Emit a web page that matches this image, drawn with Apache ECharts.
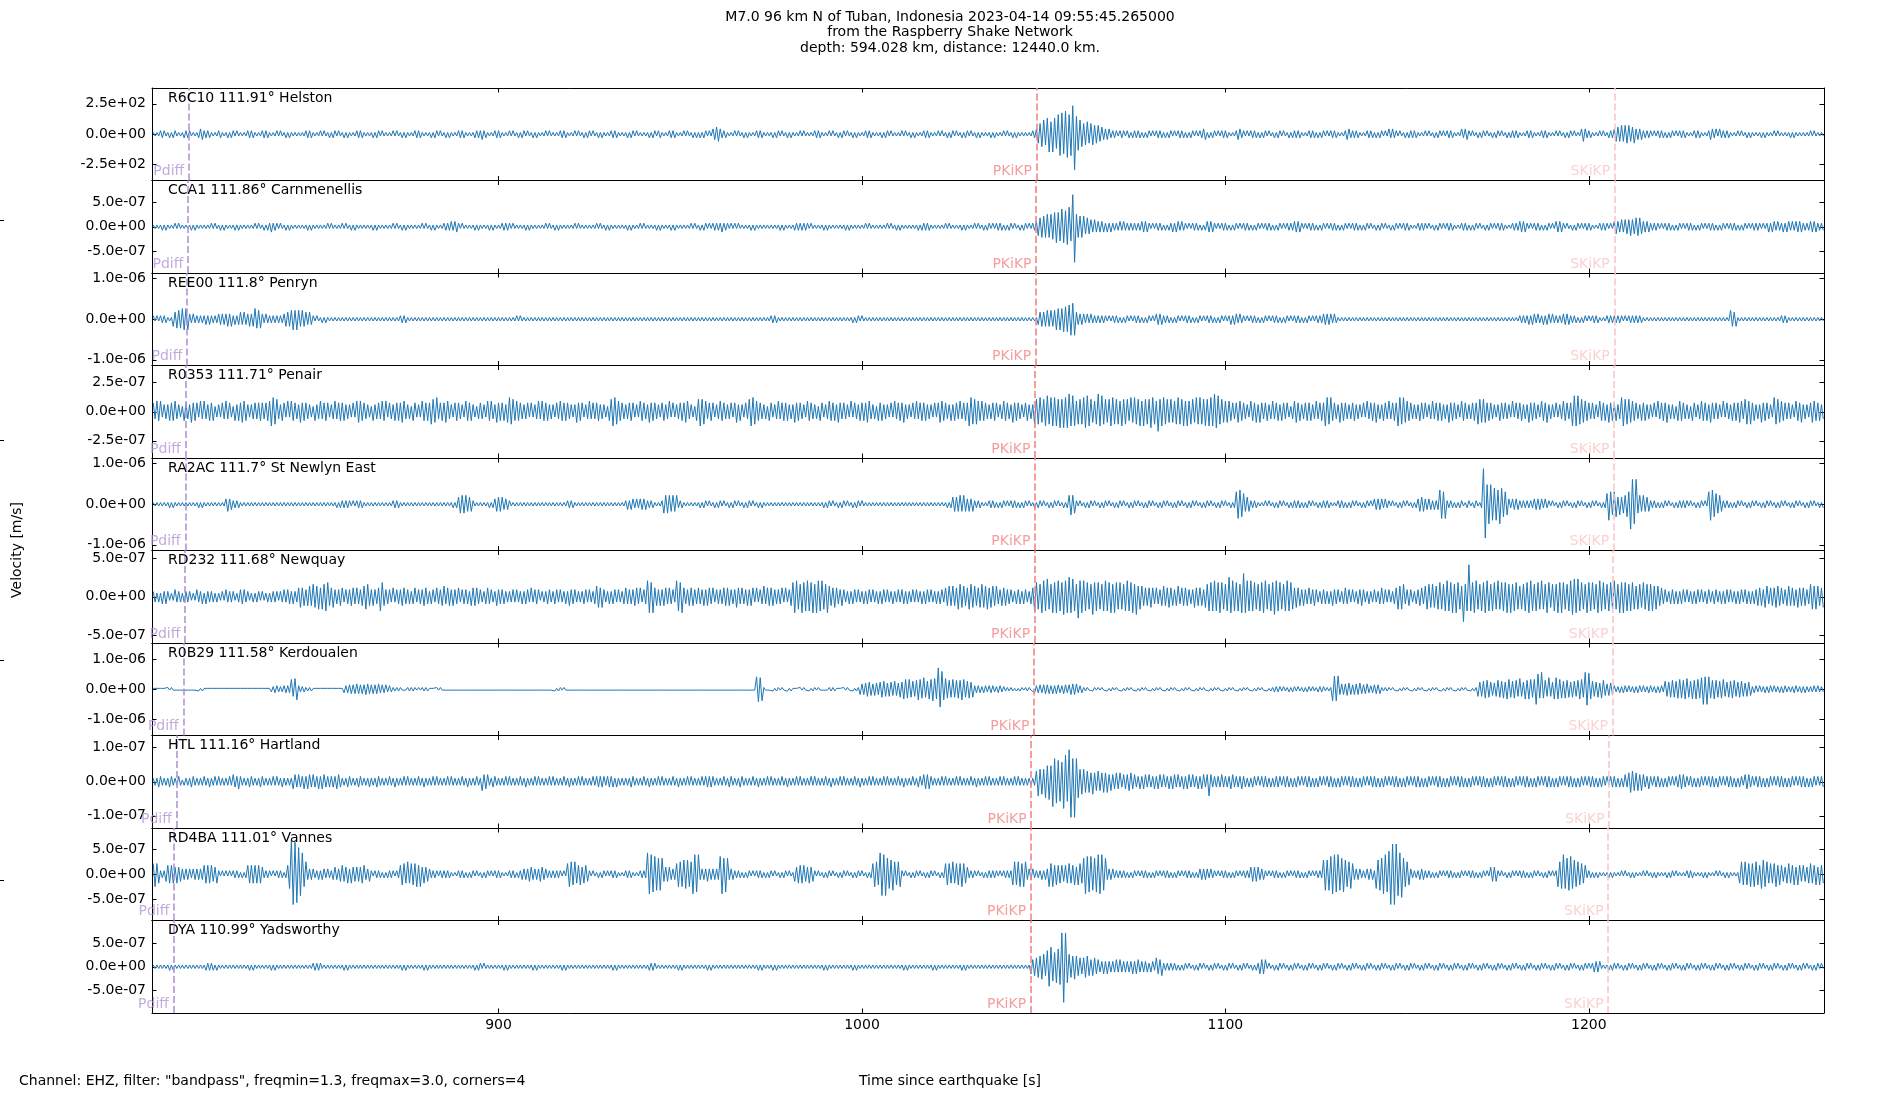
<!DOCTYPE html>
<html>
<head>
<meta charset="utf-8">
<script src="https://cdn.jsdelivr.net/npm/echarts@6/dist/echarts.min.js"></script>
<style>html,body{margin:0;padding:0;background:#fff}#c{width:1900px;height:1100px}</style>
</head>
<body>
<div id="c"></div>
<script>
// ---------------- DATA ----------------
const titleLines = ["M7.0 96 km N of Tuban, Indonesia 2023-04-14 09:55:45.265000", "from the Raspberry Shake Network", "depth: 594.028 km, distance: 12440.0 km."];
const footerLeft = 'Channel: EHZ, filter: "bandpass", freqmin=1.3, freqmax=3.0, corners=4';
const xAxisName = "Time since earthquake [s]";
const yAxisName = "Velocity [m/s]";

const stations = ["R6C10", "CCA1", "REE00", "R0353", "RA2AC", "RD232", "R0B29", "HTL", "RD4BA", "DYA"];
const distances = [111.91, 111.86, 111.8, 111.71, 111.7, 111.68, 111.58, 111.16, 111.01, 110.99];
const places = ["Helston", "Carnmenellis", "Penryn", "Penair", "St Newlyn East", "Newquay", "Kerdoualen", "Hartland", "Vannes", "Yadsworthy"];

const phaseNames = ["Pdiff", "PKiKP", "SKiKP"];
const pdiffTimes = [814.75, 814.5, 814.25, 813.85, 813.8, 813.7, 813.25, 811.35, 810.65, 810.55];
const pkikpTimes = [1048.0, 1047.9, 1047.8, 1047.6, 1047.6, 1047.5, 1047.3, 1046.55, 1046.4, 1046.4];
const skikpTimes = [1207.1, 1207.0, 1207.0, 1206.9, 1206.8, 1206.6, 1206.5, 1205.6, 1205.3, 1205.3];

const timeRange = [804.65, 1264.7];
const timeTicks = [900, 1000, 1100, 1200];
const yLimits = [380, 9.55e-7, 1.14e-6, 3.98e-7, 1.14e-6, 6.0e-7, 1.56e-6, 1.36e-7, 9.25e-7, 9.75e-7];
const yTickSteps = [250, 5e-7, 1e-6, 2.5e-7, 1e-6, 5e-7, 1e-6, 1e-7, 5e-7, 5e-7];
// number of amplitude levels per half range for each trace
const levelsPerHalf = [26, 26, 26, 26, 26, 26, 52, 26, 26, 26];

const sampleStart = 805;   // time of first sample [s]
const blockSeconds = 10;   // each block string covers 10 s (20 samples, 0.5 s apart)
// Amplitude codes: A..Z = +1..+26 levels, a..z = -1..-26 levels
const trR6C10 = [
"AaAaBbBaAbAbBaAaAbBb","BaAaAbCcBbBbAaAaBbAa","AbAbBaBaAaAaBbBbAaAa","BbBbAaAaBaBaAbAbAaAa","AaAaBbBbAaAaBaBaAbAb",
"BaBaAbAbAaAaBbBbAaAa","AbAbBaBaAaAaBaBaAbAb","AaAaBbBbAaAaAbAbBaBa","AbAbAaAaBbBbAaAaAbBb","BcBbAaAaBbBbAaAaBaBa",
"AbAbBaBaAbAbAaAaBaBa","AaAaBbBbAaAaBaBaAbAb","BaBaAbAbAaAaBbBbAaAa","AbAbBaBaAaAaAbAbBaBb","AaAaBbBbAaAaBaBaAbAb",
"AbAbBaBaCcDdCbBbAaAa","BaBaAbAbAaAaBbBbAaAa","AbAbBaBaAbAbAaAaBaBa","AaAaBbBbAaAaBaBaAbAb","BaBaAbAbAaAaBbBbAaAa",
"AbAbBaBaAaAaBaBaAbAb","AaAaBbBbAaAaBaBaAbAb","BaBaAbAbBaBaAbAbAaAa","AbAbAaAaBaBaAbAbAaAa","AaAaBbCeFgHfIjGjIhKl",
"LkMmKlPtJiHgFfGeFfEe","EdDcCcCbBbBaBbBaBbAb","BbBbAbAbBaBaBbBbAbAb","BaBaBbBbAbAbBaBaBbCc","AbAbBaBaBbBbAaAaBcCb",
"BaBaBbBbAbAbBaBaAbAb","BaBaAbAbBbBbAaAaBbBb","AbAbBaBaBbBbAaAaBcCb","BbBbAaAaBbBbAbAbBaBa","CbCbBaBaAbAbBbBbAaAa",
"BaBaAbAbBaBaBbBbAaAa","CbCcBaBaAbAbBaBaAbAb","BaBaAbAbBbBbAaAaBbBb","AaAaBbBbAaAaBaBaAbAb","BaBaAaCdCbBbAaAaBaBa",
"AbBbCdDdEdEeEdDeCcCc","BbBbBaBaBbBbAbAbBaBa","BbBbAaAaBbBbAaAaBcCb","CaCbBbBbAaAaBaBaAbAb","AaAaAbAbAaAaBaBaAaAa",
"AbAbAaAaAaAaBaBaAaAa"];
const trCCA1 = [
"AaAaAbAbAaAaBaBaAaAa","AbAbAaAaAaAaBaBaAbAb","AaAaAbAbAaAaAaAaBaBa","AbAbBcBbBaBaAbAbAaAa","AaAaAbAbAaAaAaAaBaBa",
"AaAaBaBaAbAbAaAaAaAa","AbAbAaAaAaAaBaBaAbAb","AaAaAaAaBaBaAbAbAaAa","BbBbCbCcBaBaAaAaAbAb","AaAaAbAbAaAaBbBbBaBa",
"AaAaAbAbAaAaAaAaBaBa","AbAbAaAaAaAaBaBaAaAa","AaAaBaBaAbAbAaAaAaAa","AbAbAaAaBaBaAaAaAbAb","AaAaAbAbAaAaAaAaBaBa",
"AbAbBaBaBbBbBcBbBaBa","BaBaAaAaAbAbAaAaAaAa","AaAaAbAbAaAaAbBbBbBb","BaBaAaAaAbAbAaAaAaAa","AbAbAaAaAaAaBaBaAaAa",
"AaAaBaBaAbAbAaAaAaAa","AbAbBbBbAaAaAaAaBaBa","AaAaAbAbAaAaBaBaAbAb","BaBaBbBbAbAbBaBaAbAb","BaBaBbCeEfFfGfGgHiHh",
"JiIjKhRtGfFfFdEdDcDc","CcCcBcBcBbBbCbCbBbBb","BbBbCcCcBaBaBbBbAbAb","BcBcCbCbBaBaBbBbAbAb","CcCcBaBaBbBbAbAbBaBa",
"BbBbAbAbBaBaBbBbAbAb","BaBaBbBbCcCcBaBaBbBb","AbAbBaBaBbBbAbAbBaBa","BbBbAbAbBaBaAbAbBaBa","AbAbBaBaBbBbAaAaBbBb",
"BaBaAbAbBaBaBbBbAaAa","BbBbAbAbBaBaAbAbBaBa","BbBbAaAaBbBbCcCcBaBa","BbBbAbAbBaBaCcCcBaBa","AbAbBaBaBbBbAaAaBbBb",
"BaBaCdCcDcDdDeDdEeEd","CcCcBbBbBaBaBbBbAbAb","BaBaBbBbAbAbBaBaBbBb","AbAbBaBaBbBbAbAbBaBa","BbBbBaBaBcBcCbCbBcBc",
"CbCbCcCcBbBbCcCcBbBb"];
const trREE00 = [
"BaBaBbBbAaAdDeEeFfFf","CbCbBbBbBcBcBbBbCcCc","CdCdBcBcDcDcCdCdFeEe","CbCbBbBbBbBbCdDdEfEf","EdEdDcDcBaBaAbAbAaAa",
"AaAaAaAaAaAaAaAaAaAa","AaAaAaAaAaAaAaAaBbBb","AaAaAaAaAaAaAaAaAaAa","AaAaAaAaAaAaAaAaAaAa","AaAaAaAaAaAaAaAaAaAa",
"BaBaAaAaAaAaAaAaAaAa","AaAaAaAaAaAaAaAaAaAa","AaAaAaAaAaAaAaAaAaAa","AaAaAaAaAaAaAaAaAaAa","AaAaAaAaAaAaAaAaAaAa",
"AaAaAaAaAaAaAaAaAaAa","AaAaAaAaAaAaAaAaAaAa","BbBbAaAaAaAaAaAaAaAa","AaAaAaAaAaAaAaAaAaAa","AaAaAbAbBaBaAaAaAaAa",
"AaAaAaAaAaAaAaAaAaAa","AaAaAaAaAaAaAaAaAaAa","AaAaAaAaAaAaAaAaAaAa","AaAaAaAaAaAaAaAaAaAa","AaAaAaAcDdDdEdEdEfFf",
"FgGgHiIiDcCcCbCbCbBb","BbBbBaBaBbBbAbAbBaBa","BbBbAbAbBaBaCcCcBbBb","AbAbBaBaBbBbAbAbBaBa","BbBbAbAbBaBaBcBcCbCb",
"BaBaBbBbAbAbBaBaBbBb","AbAbBaBaBbBbAbAbBaBa","BbBbCcCcCbCbAaAaAaAa","AaAaAaAaAaAaAaAaAaAa","AaAaAaAaAaAaAaAaAaAa",
"AaAaAaAaAaAaAaAaAaAa","AaAaAaAaAaAaAaAaAaAa","AaAaAaAaAaAaBbBbBcBc","CbCbBcBcCbCbBbBbCcCc","BbBbAbAbBaBaBbBbAaAa",
"BbBbBbBbBaBaBbBbBbBb","AaAaAaAaAaAaAaAaAaAa","AaAaAaAaAaAaAaAaAaAa","AaAaAaAaEdDdAaAaAaAa","AaAaAaAaAaAaAaAaBbBb",
"AaAaAaAaAaAaAaAaAaAa"];
const trR0353 = [
"EdFeFcDdDeEeFdDcCeEd","DfEeEcFdFdDeEeCcDcEd","FdEcCeDeEfFeDcDdEdEe","EdEeFhHgGdDeEcFcFeEd","DfEeEdDcCeDdFdEeEcDd",
"FdEeEeDdDcEcFfFeEdDc","CeDdEdFeFcEdDeEeEfFd","DdCeEcDcFeEeEgGfHdEe","EfFdDcEeEdDcFeEeDcCd","EdDcFeFdDfEeEeDfHgGe",
"FeEdDdEcEcDdFdFeEeDd","DcEdFeEeEdDcDfEeEcDd","FdEdEeDdDcCeGhHgFeEd","DdEeEcDcFeEdDfEeEdDc","EeDdFcEcDdEeEfFdDcCe",
"GhGgFdEeEcDdFeEdDdEc","EfDeDcEdGhHgFeEdDdCe","EcDdFdEeEeDdDfEeEdDc","FeEdDdCeEcDdFeEeDfEd","EdDcFcEdDeEeEfFdDdCe",
"EeDdDcEcFdEeEfDdDcEd","FdEeEeDdDcEcEfFeEdDe","DeEdFdEeEhHgGgFeFeEd","DdEeEcDdFeEdDfEeEdDc","EeDdDgGgHfGhIgHhHhGi",
"GiHiJhIhFgGgHiIhGfFg","JhIgGfGhHgGgFhGgGeHf","HgGhFhGgGiHgFkGhHgGf","GfFgHgGhFhFgGfHgHgGh","GhHhJiIgGfFfFeEdEfFe",
"EdDcFeEfDfEdEeDdFdEe","DeEdEcCdFfEeDdEeEeDd","FdEeEhHgHeEdDfEeEdDd","EeDdDcEcFdEeEfDdDeEd","FdEeEhHgHfFeEdDdDeEd",
"EcDdFdEeEeDdDfEeEdDc","FeEdDdEeEgGfGfEeEdDc","DeEdEdDcFcEdEeDdDfEe","EdDcFeEfDdDcEcDdFeEd","EhIhIgGfFeEdEdDcFeEe",
"DfEeEeDdHhGgGfFeEdDe","EeDdDcEcFdEeEfDdDdCe","FeEdDdCeEcDdFeEeDfEd","EdDcFcEdDeEeEfFdGgFg","EeDdDfEeEdDcHgGfFeEd",
"EdDcFeEfDdDcEfFeEeDd"];
const trRA2AC = [
"AaAaAaAaAbAbAaAaAaAa","AaAaAbAbAaAaAaAaAaAa","CdCcBbBbAaAaAaAaAaAa","AaAaAaAaAaAaAaAaAaAa","AaAaAaAaAaAaAaAaAaAa",
"AbAbBbBbBaBaBbBbAaAa","AaAaAaAaAaAaBbBbAaAa","AaAaAaAaAaAaAaAaAaAa","AaAaAbAbDeEeEdDdBaAa","AaAaAbAbCdDdDcCcBaAa",
"AaAaAaAaAaAaAaAaAaAa","AaAaAaAaBbBbAaAaAaAa","AaAaAaAaAaAaAaAaAaAa","BcBcCbCbCcCcBbBbAaAa","BeEeEdEdEbBbAaAaAaAa",
"AbAbBaBaAbAbBaBaAbAb","BaBaAbAbBaBaAbAbAaAa","AaAaAaAaAaAaAaAaAaAa","AaAaAaAaAbAbBaBaAbAb","BaBaAbAbBaBaAaAaAaAa",
"AaAaAaAaAaAaAaAaAaAa","AaAaAaAaAaAaAaAaAbAb","DdDdEdEdCdCdBbBbAaAa","BbBbAbAbBaBaBbBbAbAb","BaBaAbAbBaBaAbAbBaBa",
"AbAbEfEeBaBaAbAbBaBa","AbAbBaBaAbAbBaBaAbAb","BaBaAbAbBaBaAbAbBaBa","AbAbBaBaAbAbBaBaAbAb","BaBaAbAbBaBaAbAbGhHg",
"FdDdBbBbAaAaBaBaAbAb","BaBaAbAbBbBbAbAbBaBa","AbAbBbBbAaAaBbBbAbAb","BaBaAbAbBaBaCcCcCbCb","BaBaAbAbBaBaAbAbCdDd",
"CcCcBcBcHhGhBbBbAbAb","BaAbBaAbBaAbTsKkKiIi","HkIgGfCbCcCcBbBbBbBb","CcCcCbCbBaBaAbAbBaBa","AbAbBaBaAbAbBaBaAbAb",
"FiGfGgDfDeEgGnNkNeEd","EdDdBbBbAbAbBaBaAbAb","BbBbBaBaAbAbBaBaGiHg","FeEdBbBbAbAbBaBaAbAb","BaBaAbAbBaBaAbAbBaBa",
"AbAbBaBaAbAbBaBaAbAb"];
const trRD232 = [
"CcBcBdCdCbBbDcCcBcCc","CbBbDcCdBdCcCcBcBbCb","DcCcCbBcDdDcCbBcBcCb","CbBcBcCcCbCcDcDdCdCc","EfEeDeFeGfFgEgGhHeEf",
"DdDeEcDdDeEdEdDeFgGe","DeDdEhHeDdDcEcDdDeEd","DdCdEcDdDeEdCdDcEdDe","FdEeDeDdEcDdDdCeEeEd","DcCdEdDcCeDdDdCcCcDc",
"DcCdCdDcEcDdDbCcCdDc","CdDcDcCdCeDdDcCcCdDc","DcCdFfEfDcCdCdDcDcCd","EdDdDeEdEcDdIiHiEeDe","DeEdEdDcIhHiEdDeEeDd",
"EdDeDeEdEcDdDdEeEeDd","DfEdEdDeDeEcEcDdFdEe","EeDdDdEcEcDeHiIgGiHh","IhHiGiIhIgGiFeEfEdDe","DcCdCdDcDcCdCdDcDcCd",
"CdDcDcCdCcDcDdCdCcDc","DcCdCdDcDcCdCdDcEeFe","FeEgGfFeEgGfFeEfGfFg","EfFeFdDeEeDdDcCdDdCd","DcCdEhHgGiIhJgGiHiIh",
"HjIiKiJhGlIiIhHgGjHh","HgGhIhHiGiHgHgGhIhHi","GjFgFeEeEfEdEdDeFeEf","EeDeFdEeEeDdDfEeEeDf","GhHhIhHiHgGhKiIhHhGi",
"MiIhIhHgGhHiIgGhHjIh","HgGhIhHgEfEeDeDdEdDe","DcCdDdCdCeDdDcCdEdDc","DcCdDeDcCdCcDcCdEdDc","DcCdEgFgGdDeDcCdDeEd",
"FgGfGfFgHgGhIhHiGiHg","FnGhRhHiIgGhHiIhGhHg","IgHhHiGiGhHgFgGhHiIh","GhHgIgGiHfGhGiHiHgGh","IjJiJhHgGiHhHgGiIhHg",
"GhHgIgGiHiHhGhHgFgGf","HgGhGhFgFeEdDcCdDdCd","CdDcDcCdCdDcDcCdDcCd","DcCdCdDcDcCdCdDcDdCd","CdDeEeDfFdEeEfFeEdDe",
"FeEeDfEeEeDdGgFgFeEf"];
const trR0B29 = [
"AaAaAaAaBaBaAaAaAaAa","AaAaAbAbAaAaAaAaAaAa","AaAaAaAaAaAaAaAaAaAa","AaAaAcCdDcCcDdDdKhLl","DcCcBbBbAaAaAaAaAaAa",
"AaAaAdDdEeEeFeEeEfFe","EeEeFdEdEcDcBbBbBaAa","BbBbBaBaBbBbAaAaBaBa","AaAaAaAaAaAaAaAaAaAa","AaAaAaAaAaAaAaAaAaAa",
"AaAaAaAaAaAaAaAaAaAa","AbAbBaBaAaAaAaAaAaAa","AaAaAaAaAaAaAaAaAaAa","AaAaAaAaAaAaAaAaAaAa","AaAaAaAaAaAaAaAaAaAa",
"AaAaAaAaAaAaAaAaAaAa","AaAaAaAaAaAaNnMmBaAa","AbAbBaBaAbAbAaAaBaBa","AbAbBaBaAaAaBbBbAaAa","BaBaAbAbBfFfGhHgFgGf",
"HiIhGhHgIgGiHkKjKiIh","JlKjMiIkKmLkXtTlLjJi","KiJjJlKiIjHiDdDdCdDc","DdDcCdDcCbBbBbAbAbBa","BbBaAdDdEdEeEeDeDeEd",
"DeEdEfFfFdDdBbBaAbBa","BaBaAbAbBaBaAbAbBaBa","AbAbBaBaAbAbBaBaAbAb","BaBaAbAbBaBaAbAbBaBa","AbAbBaBaAbAbBaBaAbAb",
"BaBaAbAbBaBaAbAbBcCc","CbCbBcBcCbCbBcBcCbCb","BcCcCbBbBmOmOfFfFgGf","EfFfGeEeFdDdEeEeBbBb","BaBaAbAbBaBaAbAbBaBa",
"AbAbBaBaAbAbBaBaAbAb","BaBaAbAbBhHhIjJiHgGh","JiIjHkKiIjJhLhHkJkKi","KqQjSjJhMhHkMkKjIjJi","HiIhJkKiSrRkIhHiGjJg",
"FgGfDcCdCdDcDcCdCdDc","DcCdDcCdCdDcIhHiJiIj","KjJkLiIkJkKjMqNqNjJk","JiIjKhHiIjJhHiIhGhHg","CdDcDcCdCdDcDcCdCdDc",
"CcCdDcCdCdCcCcDcDcCc"];
const trHTL = [
"BbBcCbBbBcCbBbCbAbBb","BcCbBbBbCbBcBbCbCbBb","BbCbDcCdCbBbBcCbBbBc","CbBbBbCbCbBcBbBbBdDc","DcCdCdDcDcCdCdDcCcCc",
"CdDcBbBcCbBbBcCbBbBc","BbBcCbBbBbCbBcBbBbCb","CbBbBbCbBcBbBbCbCbBb","BbCbCbBbBbCbBcBbBbCb","BeDdDbBcCbBbBbCbCbBb",
"BbCbBcBbBbCbCbBbBbCb","CbBbBbCbBcBbBbCbCbBb","BbCbCcCcCbCcCcBcBbBb","BbBcCbBbBbCbBcBbBbCb","CbBbBbCbBcBbBbCbCbBb",
"BbCbCcCcCbBbBbCbBcCb","BbBcCbBbBbCbBcBbBbCb","CbBbBbCbBcBbBbCbCbBb","BbCbCbBbBbCbBcBbBbCb","CbBbBbCbBcBbBbCbCbBb",
"BbCbCbBbBbCbBcBbBbCb","BcCbDdDdCbBbBbCbCbBb","BbCbCbBbBbCbBcBbBbCb","CbBbBbCbCbBbBbCbCbBb","BbBbBbFhGgGiIjInMlLk",
"KoOkRtMtMiGgGfFfEgEe","FeEfEfDeDdEdEcDdDeEd","DcCdCdDcDcCdCdDcDcCd","CdDcDcCdCdDcDcCdCdDc","DhDcCcCcDcCcCdDcCcCd",
"CcBcBcCbCbCcCcBcBcCc","CbCcCcBcBcCbCbCcCcBc","BcCbCbCcCcBcBcCbCbCc","CcBcBcCbCbCcCcBcBcCb","CbCcCcBcBcCbCbCcCcBc",
"BcCbCbCcCcBcBcCbCbCc","CcBcBcCbCbCcCcBcBcCb","CbCcCcBcBcCbCbCcCcBc","BcCbCbCcCcBcBcCbCbCc","CcBcBcCbCbCcCcBcBcCb",
"CbCcCcBcBcDcEfFeEeDe","DcCdCbCcCcBcBcCbCbCc","DdDcCbCcBcBcCbCbCcCc","BcCbCbCcCcBcBcCbDdDc","CbCcCcBcBcCbCbCcCcBc",
"BcCbCbCcCcBcBcCbCbCc"];
const trRD4BA = [
"FgFeBbBdEeEeDeDdCcCc","CbCcCcCcEeEeEdDeBaBa","BaBaBbBbAbAbEeEeEeEe","DbBbBaBaBbBbAbEhSqRp","OlLgGcCcCbBcBcCbCbBc",
"DcCdEdDeCeDdDdDeEcCd","BaBbBbAbAbBbBaBbEfFe","GeFfFgEgDeDdCbBbBaBb","BbBbAaAaBbBbAbAbBaBa","AbAbBaBaBbBbAaAaBbBb",
"AbBcCcCdDcCcCdDcCbBb","BbBbBaBaFgGfGeEfDeEd","BaBaAbAbBaBaBbBbAaAa","BbBbAaAaBbBbLkKjJiIi","IdDdDcCcFgGgHhHgGkKj",
"KcCcCdCcCcCcJkIjIcCc","BbBbAbAbBaBaBbBbAbAb","BaBaAbAbBaBaAdDeEeEd","DeDdBaBaAbAbBaBaAbAb","BaBaAbAbBaBaAbAbFgGf",
"LlKlIhHiGfGgBaBaAbAb","BaBaAbAbBaBaAbAbFfFe","GeFfFgFeDbBbBaBaAbAb","BbBbBaBaBbBbBfGfGgFg","GcCcCbBbBcBcCgFgEfEe",
"EdEeFeEfDfFeIkJjJiIj","KkKiIcCcCbBbBbBbAbAb","BaBaBbBbAbAbBaBaBbBb","AbAbBaBaBbBbAbAbCcCc","CbCbBaBaBbBbAbAbBaBa",
"BbBbDdDdDcCcBaBaBbBb","AbAbBaBaBbBbAbAbBaBa","BbBbHiHiJkKjKiIjHgGh","FcCcCbBbCcCcBhHiIkKj","MqQqQlLmIgGfCbBbBcCc",
"BbBbAbAbBaBaBbBbAbAb","BaBaBbBbAbAbBaBaDdDd","BaBaAbAbBaBaBbBbAbAb","BaBaAbAbBaBaBgGhKhIi","JhHgGfFeEbBbAbAbAaAa",
"AbAbAaAaBaBaAbAbAaAa","BaBaAbAbAaAaAbAbBaBa","AaAaBbBbAaAaAbAbAaAa","BaBaAbAbAaAaAeGfGfFg","FgGfEhHgGeFeFgEfEdDe",
"FeEfDfEdEdDeFeEfDfEe"];
const trDYA = [
"AaAaAaAaAbAbAaAaAaAa","AaAaAaAaAbBbBbAbAaAa","AaAaAaAaAaAaAbAbAaAa","AaAaAbAbAaAaAaAaAaAa","AaAaAaAaBbBbBaAaAaAa",
"AaAaAbAbAaAaAaAaAaAa","AaAaAaAaAaAaAaAaAbAb","AaAaAaAaAbAbAaAaAaAa","AaAaAaAaAaAaAaAaAbAb","BaBaAaAaAaAaAbAbAaAa",
"AaAaAaAaAbAbAaAaAaAa","AaAaAbAbAaAaAaAaAaAa","AaAaAaAaAaAaAbAbAaAa","AaAaAaAaAaAaAbBbBaAa","AaAaAaAaAbAbAaAaAaAa",
"AaAaAbAbAaAaAaAaAaAa","AaAaAaAaAaAaAbAbAaAa","AbAbAaAaAaAaAaAaAaAa","AaAaAaAaAbAbAaAaAaAa","AaAaAbAbAaAaAaAaAaAa",
"AaAaAaAaAaAaAbAbAaAa","AaAaAaAaAbAbAaAaAaAa","AaAaAbAbAaAaAaAaAaAa","AaAaAaAaAaAaAaAaAaAa","AaAdDeEfFgGeIkKhHiJj",
"StSiGfFgFeEdEfFeDeEd","DcCdCdCcCcDcDcCcCcCd","CdDcCcCcBcCbEdDeBbBb","BbBbAbAbBaBaAbAbBaBa","AbAbBaBaAbAbBaBaAbAb",
"BaBaAbAbBdDdDaBaAbAb","BaBaAbAbBaBaAbAbBaBa","AbAbBaBaAbAbBaBaAbAb","BaBaAbAbBaBaAbAbBaBa","AbAbBaBaAbAbBaBaAbAb",
"BaBaAbAbBaBaAbAbBaBa","AbAbBaBaAbAbBaBaAbAb","BaBaAbAbBaBaAbAbBaBa","AbAbBaBaAbAbBaBaAbAb","BaBaAbAbBaBaBcCcCaAa",
"AbAbBaBaAbAbBaBaAbAb","BaBaAbAbBaBaAbAbBaBa","AbAbBaBaAbAbBaBaAbAb","BaBaAbAbBaBaAbAbBaBa","AbAbBaBaAbAbBaBaAbAb",
"BaBaAbAbBaBaAbAbBaBa"];
const traces = [trR6C10, trCCA1, trREE00, trR0353, trRA2AC, trRD232, trR0B29, trHTL, trRD4BA, trDYA];

// ---------------- LAYOUT / STYLE ----------------
const FONT = "DejaVu Sans";
const panelTop = 88, panelH = 92.5, panelLeft = 152, panelW = 1672;
const traceColor = "#1f77b4";
const phaseColors = ["#b295d6", "#f28585", "#fac6c6"];
const phaseTimes = [pdiffTimes, pkikpTimes, skikpTimes];

function decode(blocks, unit) {
  const out = [];
  blocks.forEach((s, k) => {
    const dt = blockSeconds / s.length;
    for (let j = 0; j < s.length; j++) {
      const c = s.charCodeAt(j);
      let lvl = 0;
      if (c >= 65 && c <= 90) lvl = c - 64;
      else if (c >= 97 && c <= 122) lvl = -(c - 96);
      out.push([sampleStart + k * blockSeconds + j * dt, lvl * unit]);
    }
  });
  return out;
}
function sci(v) {
  return v.toExponential(1).replace(/e([+-])(\d)$/, "e$10$2");
}

const grids = [], xAxes = [], yAxes = [], series = [], titles = [];
for (let i = 0; i < 10; i++) {
  const R = yLimits[i], T = yTickSteps[i];
  const yt = [-T, 0, T];
  grids.push({ left: panelLeft, width: panelW, top: panelTop + i * panelH, height: panelH, containLabel: false });
  const xBase = {
    gridIndex: i, type: "value", min: timeRange[0], max: timeRange[1],
    axisLine: { show: true, onZero: false, lineStyle: { color: "#000", width: 1 } },
    axisTick: { show: true, inside: true, length: 4.5, customValues: timeTicks, lineStyle: { color: "#000", width: 1 } },
    splitLine: { show: false }
  };
  xAxes.push(Object.assign({}, xBase, { position: "bottom",
    axisLabel: { show: i === 9, customValues: timeTicks, formatter: v => String(v), margin: 5, fontSize: 14, color: "#000", fontFamily: FONT } }));
  xAxes.push(Object.assign({}, xBase, { position: "top", axisLabel: { show: false } }));
  const yBase = {
    gridIndex: i, type: "value", min: -R, max: R,
    axisLine: { show: true, onZero: false, lineStyle: { color: "#000", width: 1 } },
    axisTick: { show: true, inside: true, length: 4.5, customValues: yt, lineStyle: { color: "#000", width: 1 } },
    splitLine: { show: false }
  };
  yAxes.push(Object.assign({}, yBase, { position: "left",
    axisLabel: { show: true, customValues: yt, formatter: sci, margin: 6, fontSize: 14, color: "#000", fontFamily: FONT } }));
  yAxes.push(Object.assign({}, yBase, { position: "right", axisLabel: { show: false } }));

  const unit = R / levelsPerHalf[i];
  series.push({
    type: "line", xAxisIndex: 2 * i, yAxisIndex: 2 * i, data: decode(traces[i], unit),
    symbol: "none", showSymbol: false, animation: false, silent: true,
    lineStyle: { color: traceColor, width: 1 },
    markLine: {
      symbol: ["none", "none"], silent: true, animation: false, label: { show: false },
      data: phaseNames.map((p, k) => ({ xAxis: phaseTimes[k][i], lineStyle: { color: phaseColors[k], type: [7, 3], width: 1.6 } }))
    }
  });
  series.push({
    type: "scatter", xAxisIndex: 2 * i, yAxisIndex: 2 * i, symbolSize: 1, clip: false, silent: true, animation: false,
    itemStyle: { color: "rgba(0,0,0,0)" },
    label: { show: true, position: "left", distance: 4, offset: [0, -9], fontSize: 14, fontFamily: FONT },
    data: phaseNames.map((p, k) => ({ value: [phaseTimes[k][i], -R], label: { formatter: p, color: phaseColors[k] } }))
  });
  titles.push({
    text: stations[i] + " " + distances[i] + "\u00b0 " + places[i],
    left: 168, top: panelTop + i * panelH + 2, padding: 0,
    textStyle: { fontSize: 14, fontWeight: "normal", color: "#000", fontFamily: FONT, lineHeight: 16 }
  });
}
// figure-level overlay axis (small ticks on the left edge)
grids.push({ left: 4, right: 0, top: 0, bottom: 0 });
xAxes.push({ gridIndex: 10, type: "value", min: 0, max: 1, show: false });
yAxes.push({ gridIndex: 10, type: "value", min: 0, max: 1, position: "left",
  axisLine: { show: false }, axisLabel: { show: false }, splitLine: { show: false },
  axisTick: { show: true, inside: false, length: 4, customValues: [0.2, 0.4, 0.6, 0.8], lineStyle: { color: "#000" } } });

const textFont = "14px '" + FONT + "'";
const graphics = titleLines.map((t, k) => ({
  type: "text", x: 950, y: 17 + k * 15.75, silent: true,
  style: { text: t, fill: "#000", font: textFont, textAlign: "center", textVerticalAlign: "middle" }
}));
graphics.push({ type: "text", x: 19, y: 1081, silent: true,
  style: { text: footerLeft, fill: "#000", font: textFont, textAlign: "left", textVerticalAlign: "middle" } });
graphics.push({ type: "text", x: 950, y: 1081, silent: true,
  style: { text: xAxisName, fill: "#000", font: textFont, textAlign: "center", textVerticalAlign: "middle" } });
graphics.push({ type: "text", x: 17, y: 550, rotation: Math.PI / 2, silent: true,
  style: { text: yAxisName, fill: "#000", font: textFont, textAlign: "center", textVerticalAlign: "middle" } });

const chart = echarts.init(document.getElementById("c"), null, { renderer: "canvas", width: 1900, height: 1100 });
chart.setOption({
  animation: false,
  backgroundColor: "#fff",
  title: titles,
  grid: grids,
  xAxis: xAxes,
  yAxis: yAxes,
  series: series,
  graphic: graphics
});
</script>
</body>
</html>
